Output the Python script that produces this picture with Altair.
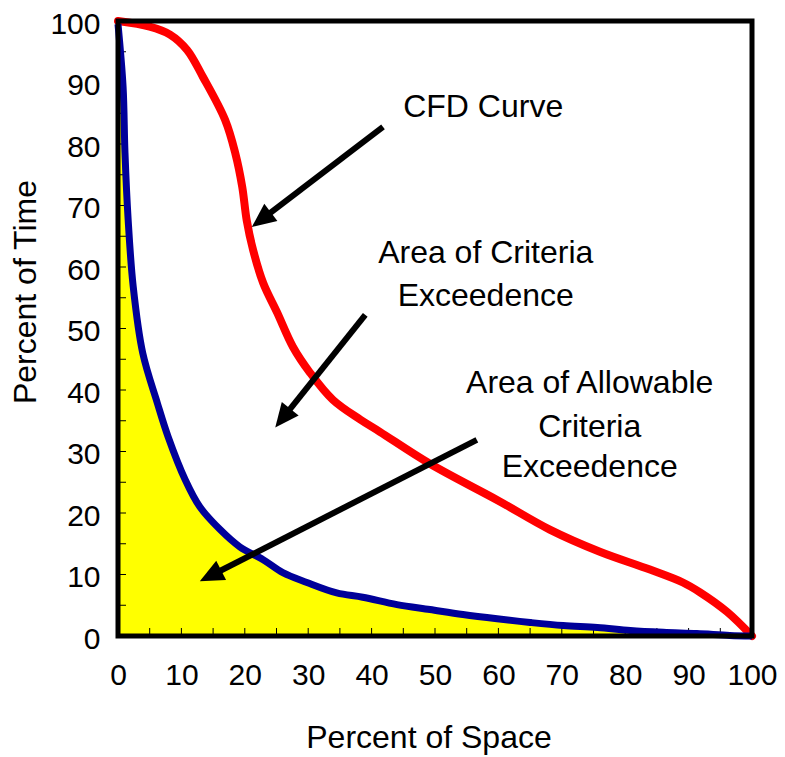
import math
import pandas as pd
import altair as alt

W, H = 634, 615

# CFD curve (red)
cfd_space = [0, 5, 8.2, 10.9, 13.4, 16.9, 18.5, 19.6, 20.3, 21.3, 22.9, 25.1, 27.6,
             30.3, 33.9, 38.2, 41.3, 49.2, 60, 68.1, 76, 83.9, 89.1, 91.8, 96.1, 100]
cfd_time = [100, 99.1, 97.8, 95.3, 90.9, 83.9, 78.5, 73.0, 67.6, 62.8, 57.4, 52.6, 47.0,
            42.8, 38.4, 35.2, 33.2, 28.0, 22.0, 17.3, 13.7, 10.8, 8.7, 7.1, 3.9, 0]

# Allowable exceedence curve (blue)
allow_space = [0, 0.8, 1.1, 1.6, 2.4, 3.9, 6.2, 7.9, 10.6, 12.9, 16.1, 19.2, 22.9, 26.0, 29.8,
               34.5, 38.6, 44.0, 49.2, 54.4, 59.8, 65.0, 70.2, 75.6, 80.8, 86.0, 91.3, 96.5, 100]
allow_time = [99.5, 89.3, 78.6, 67.7, 56.8, 46.0, 37.9, 32.4, 25.4, 21.0, 17.3, 14.5, 12.4, 10.3, 8.7,
              7.0, 6.3, 5.1, 4.3, 3.5, 2.8, 2.2, 1.7, 1.4, 0.9, 0.6, 0.4, 0.1, 0]

axis_values = list(range(0, 101, 10))
minor_ticks = list(range(0, 101, 5))

ann_text = ["CFD Curve", "Area of Criteria", "Exceedence", "Area of Allowable", "Criteria", "Exceedence"]
ann_x = [57.6, 58.0, 58.0, 74.4, 74.4, 74.4]
ann_y = [86.0, 62.3, 55.3, 41.2, 34.0, 27.4]

arrow_x0 = [41.8, 39.0, 56.6]
arrow_y0 = [82.8, 52.2, 31.9]
arrow_x1 = [21.1, 24.8, 12.9]
arrow_y1 = [66.5, 33.9, 8.9]

# ---- derived tables ----
sx, sy = W / 100.0, H / 100.0
HEAD = 24.0
rows = []
for x0, y0, x1, y1 in zip(arrow_x0, arrow_y0, arrow_x1, arrow_y1):
    dxp = (x1 - x0) * sx
    dyp = -(y1 - y0) * sy
    L = math.hypot(dxp, dyp)
    ux, uy = dxp / L, dyp / L
    ang = math.degrees(math.atan2(dxp, -dyp)) % 360
    ex = x1 - 0.8 * HEAD * ux / sx
    ey = y1 + 0.8 * HEAD * uy / sy
    rows.append({"x0": x0, "y0": y0, "xe": ex, "ye": ey, "x1": x1, "y1": y1, "ang": ang})
arrows = pd.DataFrame(rows)

cfd = pd.DataFrame({"x": cfd_space, "y": cfd_time})
allow = pd.DataFrame({"x": allow_space, "y": allow_time})
ann = pd.DataFrame({"x": ann_x, "y": ann_y, "t": ann_text})
ticks = pd.DataFrame({"t": minor_ticks})
dummy = pd.DataFrame({"d": [0]})

FONT = "Liberation Sans"
xs = alt.Scale(domain=[0, 100], nice=False, zero=False)
ys = alt.Scale(domain=[0, 100], nice=False, zero=False)

x_axis = alt.Axis(values=axis_values, title="Percent of Space", labelPadding=24, tickSize=0,
                  labelFlush=False, labelOverlap=False, titleX=310.5, titleY=111.5,
                  titleBaseline="alphabetic", titleAlign="center")
y_axis = alt.Axis(values=axis_values, title="Percent of Time", labelPadding=18, tickSize=0,
                  labelFlush=False, labelOverlap=False, labelOffset=3,
                  titleX=-83, titleY=270.5, titleAngle=270,
                  titleBaseline="alphabetic", titleAlign="center")

def X(f):
    return alt.X(f, scale=xs, axis=x_axis)

def Y(f):
    return alt.Y(f, scale=ys, axis=y_axis)

area = alt.Chart(allow).mark_area(color="#FFFF00", interpolate="catmull-rom").encode(
    x=X("x:Q"), y=Y("y:Q"))

xticks = alt.Chart(ticks).mark_rule(color="black", strokeWidth=1).encode(
    x=X("t:Q"), y=alt.value(H), y2=alt.value(H - 8))
yticks = alt.Chart(ticks).mark_rule(color="black", strokeWidth=1).encode(
    y=Y("t:Q"), x=alt.value(0), x2=alt.value(8))

red = alt.Chart(cfd).mark_line(color="#FF0000", strokeWidth=8, interpolate="catmull-rom",
                               strokeCap="round").encode(x=X("x:Q"), y=Y("y:Q"))
blue = alt.Chart(allow).mark_line(color="#000099", strokeWidth=7, interpolate="catmull-rom").encode(
    x=X("x:Q"), y=Y("y:Q"))

shafts = alt.Chart(arrows).mark_rule(color="black", strokeWidth=6).encode(
    x=X("x0:Q"), y=Y("y0:Q"), x2="xe:Q", y2="ye:Q")
heads = alt.Chart(arrows).mark_point(
    shape="M0,0L-0.45,1L0.45,1Z", filled=True, fill="black", strokeWidth=0, opacity=1,
    size=(2 * HEAD) ** 2).encode(
    x=X("x1:Q"), y=Y("y1:Q"), angle=alt.Angle("ang:Q", scale=None))

texts = alt.Chart(ann).mark_text(font=FONT, fontSize=32, align="center", baseline="middle",
                                 color="black").encode(x=X("x:Q"), y=Y("y:Q"), text="t:N")

frame = alt.Chart(dummy).mark_rect(filled=False, stroke="black", strokeWidth=5).encode(
    x=alt.value(0), x2=alt.value(W), y=alt.value(0), y2=alt.value(H))

chart = alt.layer(area, yticks, xticks, red, blue, shafts, heads, texts, frame).properties(
    width=W, height=H,
    autosize=alt.AutoSizeParams(type="none"),
    padding={"left": 110, "top": 13, "right": 25, "bottom": 121},
).configure_view(stroke=None).configure_axis(
    grid=False, domain=False, ticks=False,
    labelFont=FONT, labelFontSize=30, labelColor="black",
    titleFont=FONT, titleFontSize=32, titleFontWeight="normal", titleColor="black",
)

chart.save("out.html", embed_options={"renderer": "svg", "actions": False})
